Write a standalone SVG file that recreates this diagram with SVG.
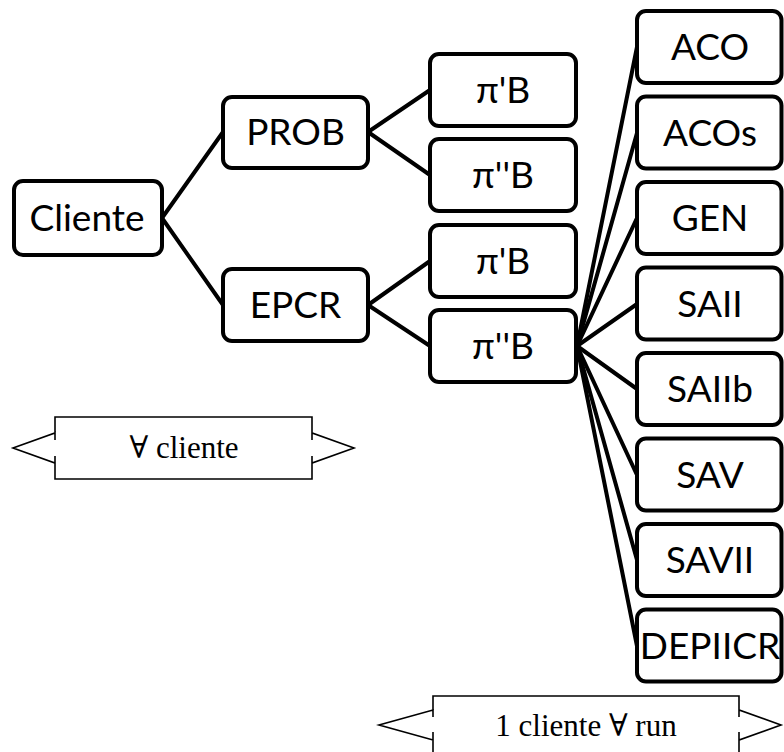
<svg xmlns="http://www.w3.org/2000/svg" width="784" height="752" viewBox="0 0 784 752">
  <style>
    .box { fill: #fff; stroke: #000; stroke-width: 4; }
    .lbl { font-family: Lato, "Noto Sans", "DejaVu Sans", sans-serif; font-size: 37px; fill: #000; text-anchor: middle; }
    .edge { stroke: #000; stroke-width: 4; fill: none; stroke-linecap: round; }
    .callout { fill: #fff; stroke: #000; stroke-width: 1.6; stroke-linejoin: miter; }
    .note { font-family: "Liberation Serif", "DejaVu Serif", serif; font-size: 31px; fill: #000; text-anchor: middle; }
  </style>

  <!-- connectors -->
  <g id="connectors">
    <line class="edge" x1="162" y1="218" x2="223" y2="132"/>
    <line class="edge" x1="162" y1="218" x2="223" y2="305"/>
    <line class="edge" x1="368" y1="132" x2="430" y2="90"/>
    <line class="edge" x1="368" y1="132" x2="430" y2="175"/>
    <line class="edge" x1="368" y1="305" x2="430" y2="261"/>
    <line class="edge" x1="368" y1="305" x2="430" y2="346"/>
    <line class="edge" x1="577" y1="346" x2="637" y2="47"/>
    <line class="edge" x1="577" y1="346" x2="637" y2="133"/>
    <line class="edge" x1="577" y1="346" x2="637" y2="218"/>
    <line class="edge" x1="577" y1="346" x2="637" y2="304"/>
    <line class="edge" x1="577" y1="346" x2="637" y2="389"/>
    <line class="edge" x1="577" y1="346" x2="637" y2="475"/>
    <line class="edge" x1="577" y1="346" x2="637" y2="560"/>
    <line class="edge" x1="577" y1="346" x2="637" y2="646"/>
  </g>

  <!-- root -->
  <g id="cliente">
    <rect class="box" x="14" y="181" width="148" height="74" rx="9"/>
    <text class="lbl" x="87" y="231">Cliente</text>
  </g>

  <!-- second level -->
  <g id="prob">
    <rect class="box" x="223" y="97" width="145" height="71" rx="9"/>
    <text class="lbl" x="295.5" y="145">PROB</text>
  </g>
  <g id="epcr">
    <rect class="box" x="223" y="269" width="145" height="72" rx="9"/>
    <text class="lbl" x="295.5" y="318">EPCR</text>
  </g>

  <!-- third level -->
  <g id="prob-pi1">
    <rect class="box" x="430" y="54" width="146" height="72" rx="9"/>
    <text class="lbl" x="503" y="103">π'B</text>
  </g>
  <g id="prob-pi2">
    <rect class="box" x="430" y="139" width="146" height="72" rx="9"/>
    <text class="lbl" x="503" y="188">π''B</text>
  </g>
  <g id="epcr-pi1">
    <rect class="box" x="430" y="225" width="146" height="72" rx="9"/>
    <text class="lbl" x="503" y="274">π'B</text>
  </g>
  <g id="epcr-pi2">
    <rect class="box" x="430" y="310" width="146" height="72" rx="9"/>
    <text class="lbl" x="503" y="359">π''B</text>
  </g>

  <!-- algorithms -->
  <g id="aco">
    <rect class="box" x="637" y="11" width="144.5" height="72" rx="9"/>
    <text class="lbl" x="710" y="60">ACO</text>
  </g>
  <g id="acos">
    <rect class="box" x="637" y="96.5" width="144.5" height="72" rx="9"/>
    <text class="lbl" x="710" y="145.5">ACOs</text>
  </g>
  <g id="gen">
    <rect class="box" x="637" y="182" width="144.5" height="72" rx="9"/>
    <text class="lbl" x="710" y="231">GEN</text>
  </g>
  <g id="saii">
    <rect class="box" x="637" y="267.5" width="144.5" height="72" rx="9"/>
    <text class="lbl" x="710" y="316.5">SAII</text>
  </g>
  <g id="saiib">
    <rect class="box" x="637" y="353" width="144.5" height="72" rx="9"/>
    <text class="lbl" x="710" y="402">SAIIb</text>
  </g>
  <g id="sav">
    <rect class="box" x="637" y="438.5" width="144.5" height="72" rx="9"/>
    <text class="lbl" x="710" y="487.5">SAV</text>
  </g>
  <g id="savii">
    <rect class="box" x="637" y="524" width="144.5" height="72" rx="9"/>
    <text class="lbl" x="710" y="573">SAVII</text>
  </g>
  <g id="depiicr">
    <rect class="box" x="637" y="609.5" width="144.5" height="72" rx="9"/>
    <text class="lbl" x="710" y="658.5">DEPIICR</text>
  </g>

  <!-- scope callouts -->
  <g id="scope-all">
    <path class="callout" d="M55,417 H312 V440 V433 L354,448 L312,463 V456 V479 H55 V456 V463 L13,448 L55,433 V440 Z"/>
    <text class="note" x="184" y="458">∀ cliente</text>
  </g>
  <g id="scope-run">
    <path class="callout" d="M433,696 H739 V717 V710 L781,725 L739,740 V732 V758 H433 V732 V740 L379,725 L433,710 V717 Z"/>
    <text class="note" x="586" y="736">1 cliente ∀ run</text>
  </g>
</svg>
